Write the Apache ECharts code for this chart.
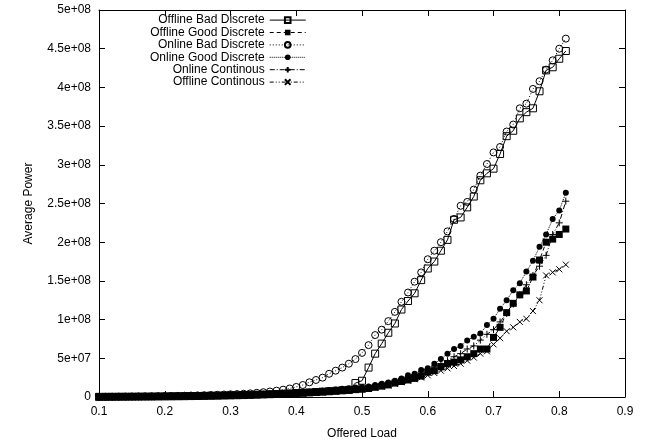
<!DOCTYPE html>
<html>
<head>
<meta charset="utf-8">
<script src="https://cdn.jsdelivr.net/npm/echarts@6/dist/echarts.min.js"></script>
<style>
html,body{margin:0;padding:0;background:#fff;}
#chart{width:651px;height:445px;}
</style>
</head>
<body>
<div id="chart"></div>
<script>
const loads = [0.10,0.11,0.12,0.13,0.14,0.15,0.16,0.17,0.18,0.19,
0.20,0.21,0.22,0.23,0.24,0.25,0.26,0.27,0.28,0.29,
0.30,0.31,0.32,0.33,0.34,0.35,0.36,0.37,0.38,0.39,
0.40,0.41,0.42,0.43,0.44,0.45,0.46,0.47,0.48,0.49,
0.50,0.51,0.52,0.53,0.54,0.55,0.56,0.57,0.58,0.59,
0.60,0.61,0.62,0.63,0.64,0.65,0.66,0.67,0.68,0.69,
0.70,0.71,0.72,0.73,0.74,0.75,0.76,0.77,0.78,0.79,
0.80,0.81];

const offlineBadDiscrete = [0.2e6,0.25e6,0.3e6,0.35e6,0.4e6,0.45e6,0.5e6,0.55e6,0.6e6,0.7e6,
0.75e6,0.85e6,0.95e6,1.05e6,1.2e6,1.3e6,1.45e6,1.6e6,1.75e6,1.9e6,
2.1e6,2.3e6,2.5e6,2.75e6,3.0e6,3.3e6,3.6e6,3.9e6,4.25e6,4.6e6,
5.0e6,5.4e6,5.9e6,6.4e6,6.9e6,7.4e6,8.0e6,8.6e6,9.2e6,18e6,
21e6,38e6,56e6,69e6,83e6,95e6,113e6,124e6,134e6,151e6,
166e6,175e6,189e6,203e6,229e6,232e6,245e6,259e6,280e6,289e6,
295e6,314e6,337e6,344e6,360e6,368e6,373e6,395e6,422e6,426e6,
437e6,447e6];

const offlineGoodDiscrete = [0.2e6,0.25e6,0.3e6,0.35e6,0.4e6,0.45e6,0.5e6,0.55e6,0.6e6,0.65e6,
0.75e6,0.85e6,0.95e6,1.05e6,1.15e6,1.3e6,1.4e6,1.55e6,1.7e6,1.9e6,
2.05e6,2.25e6,2.5e6,2.7e6,3.0e6,3.25e6,3.55e6,3.85e6,4.2e6,4.55e6,
4.95e6,5.4e6,5.85e6,6.3e6,6.8e6,7.3e6,7.9e6,8.5e6,9.0e6,9.5e6,
10e6,11e6,12.5e6,14e6,15.6e6,18e6,20e6,22e6,24e6,27e6,
32e6,34e6,39e6,43e6,45e6,48e6,52e6,56e6,62e6,62e6,
77e6,90e6,109e6,121e6,132e6,137e6,155e6,177e6,200e6,204e6,
210e6,217e6];

const onlineBadDiscrete = [0.3e6,0.35e6,0.4e6,0.5e6,0.55e6,0.65e6,0.75e6,0.85e6,0.95e6,1.1e6,
1.2e6,1.35e6,1.5e6,1.7e6,1.9e6,2.1e6,2.3e6,2.6e6,2.9e6,3.2e6,
3.5e6,3.8e6,4.2e6,4.7e6,5.4e6,6.2e6,7.1e6,8.2e6,9.5e6,11e6,
13e6,15.5e6,19e6,22e6,25e6,30e6,34e6,38e6,43e6,49e6,
57e6,67e6,80e6,87e6,98e6,110e6,123e6,135e6,149e6,161e6,
178e6,189e6,200e6,214e6,230e6,247e6,252e6,268e6,286e6,301e6,
316e6,323e6,343e6,352e6,373e6,379e6,398e6,408e6,423e6,435e6,
450e6,463e6];

const onlineGoodDiscrete = [0.25e6,0.3e6,0.35e6,0.4e6,0.45e6,0.5e6,0.6e6,0.65e6,0.7e6,0.8e6,
0.9e6,1.0e6,1.1e6,1.2e6,1.35e6,1.5e6,1.6e6,1.8e6,2.0e6,2.2e6,
2.4e6,2.6e6,2.9e6,3.2e6,3.5e6,3.8e6,4.1e6,4.5e6,4.9e6,5.3e6,
5.8e6,6.3e6,6.8e6,7.4e6,8.0e6,9.0e6,9.8e6,10.6e6,11.4e6,12.2e6,
13e6,13.5e6,15.6e6,17e6,18.6e6,21e6,24e6,28e6,30e6,35e6,
37e6,43e6,49e6,56e6,62e6,66e6,73e6,78e6,82e6,93e6,
101e6,114e6,125e6,138e6,147e6,162e6,176e6,194e6,210e6,230e6,
241e6,264e6];

const onlineContinous = [0.22e6,0.27e6,0.32e6,0.37e6,0.42e6,0.47e6,0.55e6,0.6e6,0.65e6,0.72e6,
0.8e6,0.9e6,1.0e6,1.1e6,1.25e6,1.4e6,1.5e6,1.65e6,1.85e6,2.05e6,
2.2e6,2.4e6,2.7e6,2.95e6,3.25e6,3.5e6,3.85e6,4.2e6,4.55e6,4.95e6,
5.4e6,5.85e6,6.3e6,6.85e6,7.4e6,7.95e6,8.6e6,9.2e6,9.8e6,10.4e6,
11e6,12.5e6,14e6,16e6,17.5e6,20e6,22e6,25e6,28e6,31e6,
35e6,39e6,43e6,47e6,52e6,56e6,62e6,66e6,73.5e6,81e6,
87e6,97e6,108e6,120e6,132e6,145e6,157e6,169e6,183e6,210e6,
225e6,253e6];

const offlineContinous = [0.18e6,0.22e6,0.26e6,0.3e6,0.35e6,0.4e6,0.45e6,0.5e6,0.55e6,0.6e6,
0.68e6,0.75e6,0.85e6,0.95e6,1.05e6,1.15e6,1.3e6,1.4e6,1.55e6,1.7e6,
1.85e6,2.05e6,2.25e6,2.45e6,2.7e6,2.95e6,3.2e6,3.5e6,3.8e6,4.15e6,
4.5e6,4.9e6,5.3e6,5.75e6,6.2e6,6.7e6,7.2e6,7.8e6,8.4e6,9.0e6,
9.7e6,11e6,12e6,13.5e6,15e6,17e6,19e6,21e6,23e6,25e6,
28e6,31e6,34e6,37e6,40e6,43e6,47e6,51e6,56e6,59e6,
68e6,76e6,85e6,90e6,97e6,101e6,111e6,125e6,157e6,161e6,
165e6,171e6];

const seriesNames = ['Offline Bad Discrete','Offline Good Discrete','Online Bad Discrete',
  'Online Good Discrete','Online Continous','Offline Continous'];

const FONT = '"Liberation Sans", Arial, Helvetica, sans-serif';

function pairs(arr){ return loads.map((x,i)=>[x, arr[i]]); }

function yFmt(v){
  if (v === 0) return '0';
  const e = Math.floor(Math.log10(v) + 1e-9);
  let m = v / Math.pow(10, e);
  m = Math.round(m * 100) / 100;
  return m + 'e+' + (e < 10 ? '0' + e : e);
}

const open = {color:'rgba(0,0,0,0)', borderColor:'#000', borderWidth:1};
const filled = {color:'#000', borderColor:'#000', borderWidth:0};
const stroked = {color:'rgba(0,0,0,0)', borderColor:'#000', borderWidth:1};

function mk(name, data, symbol, size, itemStyle, dash){
  return {
    name: name, type:'line', data: pairs(data),
    symbol: symbol, symbolSize: size, showAllSymbol: true,
    itemStyle: itemStyle,
    lineStyle: {color:'#000', width:1, type: dash},
    emphasis: {disabled:true},
    xAxisIndex:0, yAxisIndex:0
  };
}

const series = [
  mk(seriesNames[0], offlineBadDiscrete, 'rect', 7, open, 'solid'),
  mk(seriesNames[1], offlineGoodDiscrete, 'rect', 7, filled, [4,3]),
  mk(seriesNames[2], onlineBadDiscrete, 'circle', 7, open, [1,2]),
  mk(seriesNames[3], onlineGoodDiscrete, 'circle', 6, filled, [1,1]),
  mk(seriesNames[4], onlineContinous, 'path://M0,5L10,5M5,0L5,10', 7, stroked, [5,2,1,2]),
  mk(seriesNames[5], offlineContinous, 'path://M0,0L10,10M10,0L0,10', 6, stroked, [4,2,1,2,1,2])
];

const axisLine = {show:true, onZero:false, lineStyle:{color:'#000', width:1}};
const tick = {show:true, inside:true, length:6, lineStyle:{color:'#000', width:1}};
const lbl = {color:'#000', fontSize:12, fontFamily:FONT};

const chart = echarts.init(document.getElementById('chart'), null, {renderer:'canvas'});
chart.setOption({
  animation:false,
  backgroundColor:'#fff',
  grid:{left:99, right:26, top:10, bottom:41, containLabel:false},
  legend:{
    data: seriesNames, orient:'vertical', left:150, top:14, align:'right',
    itemWidth:36, itemHeight:7, itemGap:0.2, padding:0,
    lineStyle:{width:1},
    textStyle:{color:'#000', fontSize:12, fontFamily:FONT, width:114, align:'right', lineHeight:12.2}
  },
  xAxis:[
    {type:'value', min:0.1, max:0.9, interval:0.1, position:'bottom',
     axisLine:axisLine, axisTick:tick, splitLine:{show:false},
     axisLabel:Object.assign({margin:9, formatter:v=>v.toFixed(1)}, lbl),
     name:'Offered Load', nameLocation:'middle', nameGap:31,
     nameTextStyle:{color:'#000', fontSize:12, fontFamily:FONT}},
    {type:'value', min:0.1, max:0.9, interval:0.1, position:'top',
     axisLine:axisLine, axisTick:tick, splitLine:{show:false}, axisLabel:{show:false}}
  ],
  yAxis:[
    {type:'value', min:0, max:5e8, interval:5e7, position:'left',
     axisLine:axisLine, axisTick:tick, splitLine:{show:false},
     axisLabel:Object.assign({margin:8, formatter:yFmt}, lbl),
     name:'Average Power', nameLocation:'middle', nameGap:64,
     nameTextStyle:{color:'#000', fontSize:12, fontFamily:FONT}},
    {type:'value', min:0, max:5e8, interval:5e7, position:'right',
     axisLine:axisLine, axisTick:tick, splitLine:{show:false}, axisLabel:{show:false}}
  ],
  series: series
});
</script>
</body>
</html>
